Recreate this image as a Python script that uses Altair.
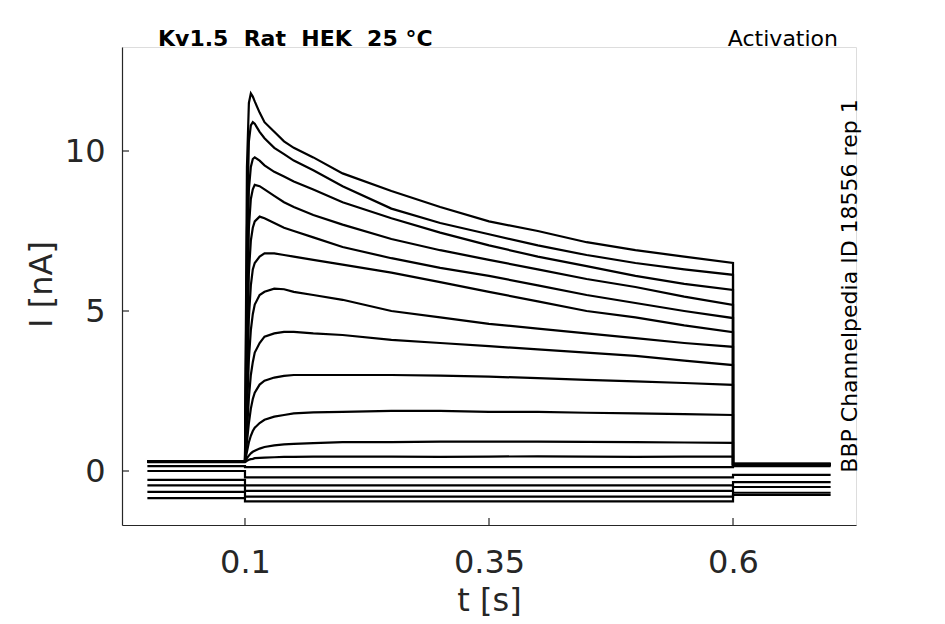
import altair as alt
import pandas as pd

# ---- data ----
PULSE_T = [0.1, 0.102, 0.104, 0.106, 0.108, 0.11, 0.115, 0.12, 0.13, 0.14, 0.15,
           0.17, 0.2, 0.25, 0.3, 0.35, 0.4, 0.45, 0.5, 0.55, 0.6]
FLAT_T = [0.1, 0.6]

TRACE_A = [0.3, 9.5, 11.5, 11.8, 11.7, 11.55, 11.2, 10.9, 10.6, 10.3, 10.1, 9.8, 9.3, 8.75, 8.25, 7.8, 7.5, 7.15, 6.9, 6.7, 6.5]
TRACE_B = [0.3, 7.5, 10.3, 10.8, 10.9, 10.85, 10.6, 10.4, 10.1, 9.9, 9.7, 9.4, 8.9, 8.2, 7.75, 7.4, 7.05, 6.75, 6.5, 6.3, 6.13]
TRACE_C = [0.3, 6.0, 8.8, 9.5, 9.75, 9.8, 9.7, 9.55, 9.35, 9.2, 9.05, 8.8, 8.4, 7.9, 7.45, 7.05, 6.7, 6.4, 6.1, 5.85, 5.66]
TRACE_D = [0.3, 4.5, 7.6, 8.5, 8.8, 8.94, 8.9, 8.8, 8.6, 8.4, 8.25, 8.0, 7.7, 7.25, 6.9, 6.6, 6.3, 6.0, 5.75, 5.45, 5.19]
TRACE_E = [0.3, 3.5, 6.2, 7.2, 7.6, 7.8, 7.95, 7.9, 7.75, 7.6, 7.5, 7.3, 7.0, 6.65, 6.35, 6.1, 5.8, 5.5, 5.25, 5.0, 4.78]
TRACE_F = [0.3, 2.5, 4.8, 5.8, 6.3, 6.5, 6.7, 6.8, 6.8, 6.75, 6.7, 6.6, 6.45, 6.2, 5.9, 5.6, 5.3, 5.0, 4.8, 4.55, 4.34]
TRACE_G = [0.3, 1.8, 3.5, 4.4, 4.9, 5.2, 5.5, 5.6, 5.7, 5.68, 5.6, 5.5, 5.35, 5.0, 4.8, 4.6, 4.45, 4.3, 4.15, 4.0, 3.88]
TRACE_H = [0.3, 1.2, 2.3, 3.0, 3.4, 3.7, 4.0, 4.2, 4.3, 4.35, 4.35, 4.3, 4.25, 4.1, 4.0, 3.9, 3.8, 3.7, 3.6, 3.45, 3.31]
TRACE_I = [0.3, 0.9, 1.5, 1.95, 2.25, 2.45, 2.7, 2.82, 2.92, 2.97, 3.0, 3.0, 3.0, 3.0, 2.98, 2.95, 2.9, 2.85, 2.8, 2.75, 2.69]
TRACE_J = [0.3, 0.6, 0.9, 1.1, 1.25, 1.35, 1.5, 1.6, 1.7, 1.75, 1.8, 1.83, 1.85, 1.88, 1.88, 1.85, 1.85, 1.82, 1.8, 1.78, 1.75]
TRACE_K = [0.3, 0.4, 0.48, 0.55, 0.6, 0.63, 0.7, 0.75, 0.8, 0.83, 0.85, 0.87, 0.9, 0.9, 0.92, 0.92, 0.92, 0.91, 0.9, 0.89, 0.88]
TRACE_L = [0.28, 0.32, 0.35, 0.37, 0.38, 0.4, 0.41, 0.42, 0.43, 0.44, 0.44, 0.45, 0.45, 0.45, 0.44, 0.45, 0.46, 0.45, 0.44, 0.45, 0.45]
TRACE_M = [0.12, 0.12]
TRACE_N = [-0.2, -0.2]
TRACE_O = [-0.45, -0.45]
TRACE_P = [-0.62, -0.62]
TRACE_Q = [-0.8, -0.8]
TRACE_R = [-0.95, -0.95]

PULSE_VALUES = [TRACE_A, TRACE_B, TRACE_C, TRACE_D, TRACE_E, TRACE_F, TRACE_G, TRACE_H,
                TRACE_I, TRACE_J, TRACE_K, TRACE_L, TRACE_M, TRACE_N, TRACE_O, TRACE_P,
                TRACE_Q, TRACE_R]
PRE_LEVEL = [0.3, 0.3, 0.3, 0.3, 0.3, 0.3, 0.3, 0.3, 0.3, 0.3, 0.3, 0.28, 0.15, 0.0, -0.28, -0.45, -0.65, -0.85]
POST_LEVEL = [0.22, 0.2, 0.22, 0.18, 0.2, 0.22, 0.2, 0.18, 0.22, 0.2, 0.2, 0.2, 0.15, -0.12, -0.35, -0.5, -0.68, -0.75]
T_START, T_STEP_ON, T_STEP_OFF, T_END = 0.0, 0.1, 0.6, 0.7

X_TICKS = [0.1, 0.35, 0.6]
Y_TICKS = [0, 5, 10]
X_DOMAIN = [-0.026, 0.726]
Y_DOMAIN = [-1.6875, 13.25]

TITLE_LEFT = "Kv1.5\u00a0\u00a0Rat\u00a0\u00a0HEK\u00a0\u00a025\u00a0°C"
TITLE_RIGHT = "Activation"
SIDE_TEXT = "BBP Channelpedia ID 18556 rep 1"

# ---- build table ----
rows = []
for i, vals in enumerate(PULSE_VALUES):
    ts = PULSE_T if len(vals) == len(PULSE_T) else FLAT_T
    k = 0
    rows.append({"trace": i, "k": k, "t": T_START, "I": PRE_LEVEL[i]}); k += 1
    rows.append({"trace": i, "k": k, "t": T_STEP_ON, "I": PRE_LEVEL[i]}); k += 1
    for t, v in zip(ts, vals):
        rows.append({"trace": i, "k": k, "t": t, "I": v}); k += 1
    rows.append({"trace": i, "k": k, "t": T_STEP_OFF, "I": POST_LEVEL[i]}); k += 1
    rows.append({"trace": i, "k": k, "t": T_END, "I": POST_LEVEL[i]}); k += 1
df = pd.DataFrame(rows)

W, H = 734, 478
FONT = "DejaVu Sans"
AX = "#262626"

xscale = alt.Scale(domain=X_DOMAIN, nice=False, zero=False)
yscale = alt.Scale(domain=Y_DOMAIN, nice=False, zero=False)

lines = alt.Chart(df).mark_line(color="black", strokeWidth=2.2, clip=True).encode(
    x=alt.X("t:Q", scale=xscale,
            axis=alt.Axis(values=X_TICKS, format=".2~f", title="t [s]", grid=False,
                          ticks=False, domainColor=AX, domainWidth=1.2,
                          labelFont=FONT, labelFontSize=32, labelColor=AX, labelPadding=22,
                          titleFont=FONT, titleFontSize=32, titleColor=AX, titleFontWeight="normal",
                          titleX=W / 2, titleY=85, titleBaseline="alphabetic", titleAlign="center")),
    y=alt.Y("I:Q", scale=yscale,
            axis=alt.Axis(values=Y_TICKS, format="d", title="I [nA]", grid=False,
                          ticks=False, domainColor=AX, domainWidth=1.2,
                          labelFont=FONT, labelFontSize=32, labelColor=AX, labelPadding=17,
                          titleFont=FONT, titleFontSize=32, titleColor=AX, titleFontWeight="normal",
                          titleAngle=270, titleX=-71, titleY=237,
                          titleBaseline="alphabetic", titleAlign="center")),
    detail="trace:N",
    order="k:Q",
)

xt = alt.Chart(pd.DataFrame({"v": X_TICKS})).mark_rule(color=AX, strokeWidth=1.2).encode(
    x=alt.X("v:Q", scale=xscale), y=alt.value(H), y2=alt.value(H - 7))
yt = alt.Chart(pd.DataFrame({"v": Y_TICKS})).mark_rule(color=AX, strokeWidth=1.2).encode(
    y=alt.Y("v:Q", scale=yscale), x=alt.value(0), x2=alt.value(7))

t_left = alt.Chart(pd.DataFrame({"s": [TITLE_LEFT]})).mark_text(
    font=FONT, fontSize=22, fontWeight="bold", color="black", align="left", baseline="alphabetic"
).encode(text="s:N", x=alt.value(36), y=alt.value(-1))
t_right = alt.Chart(pd.DataFrame({"s": [TITLE_RIGHT]})).mark_text(
    font=FONT, fontSize=22, color="black", align="right", baseline="alphabetic"
).encode(text="s:N", x=alt.value(716), y=alt.value(-1))
t_side = alt.Chart(pd.DataFrame({"s": [SIDE_TEXT]})).mark_text(
    font=FONT, fontSize=22, color="black", align="center", baseline="alphabetic", angle=270
).encode(text="s:N", x=alt.value(735), y=alt.value(239))

chart = alt.layer(lines, xt, yt, t_left, t_right, t_side).properties(
    width=W, height=H,
    autosize=alt.AutoSizeParams(type="none"),
    padding={"left": 114, "top": 39, "right": 60, "bottom": 93},
).configure_view(stroke=None).configure(background="white")

chart.save("out.html", embed_options={"renderer": "svg", "actions": False})
